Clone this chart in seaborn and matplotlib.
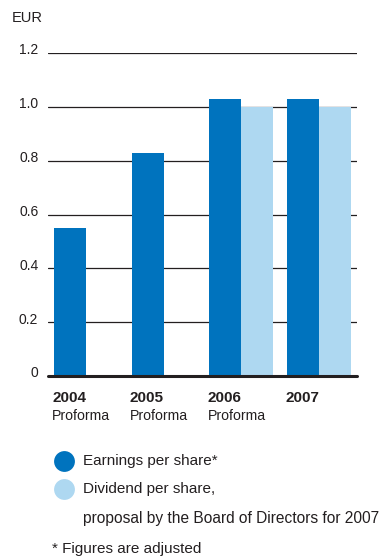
import matplotlib
matplotlib.use("Agg")
import matplotlib.pyplot as plt
from matplotlib.lines import Line2D
from matplotlib.transforms import ScaledTranslation, blended_transform_factory
import seaborn as sns
import pandas as pd

# Earnings and dividend per share, EUR
years = ["2004", "2005", "2006", "2007"]
year_notes = ["Proforma", "Proforma", "Proforma", ""]
eps = [0.55, 0.83, 1.03, 1.03]
dividend = [None, None, 1.00, 1.00]
series = ["Earnings per share*", "Dividend per share,"]
y_ticks = [0, 0.2, 0.4, 0.6, 0.8, 1.0, 1.2]
y_tick_labels = ["0", "0.2", "0.4", "0.6", "0.8", "1.0", "1.2"]

DARK = "#0073BE"
LIGHT = "#AED8F1"
TEXT = "#231F20"

rows = []
for y, e, d in zip(years, eps, dividend):
    rows.append((y, series[0], e))
    if d is not None:
        rows.append((y, series[1], d))
df = pd.DataFrame(rows, columns=["year", "series", "value"])

sns.set_theme(style="white")
plt.rcParams["font.family"] = ["Liberation Sans", "DejaVu Sans"]
plt.rcParams["text.color"] = TEXT

fig = plt.figure(figsize=(3.81, 5.60), dpi=100)
ax = fig.add_axes([48 / 381, 184 / 560, 309 / 381, 323 / 560])

sns.barplot(data=df, x="year", y="value", hue="series", order=years,
            hue_order=series, palette=[DARK, LIGHT], width=0.82,
            saturation=1, legend=False, ax=ax, zorder=2, linewidth=0)

ax.set_xlim(-0.49, 3.49)
ax.set_ylim(0, 1.2)
ax.set_xlabel("")
ax.set_ylabel("")
for s in ax.spines.values():
    s.set_visible(False)

ax.set_yticks(y_ticks)
ax.set_yticklabels(y_tick_labels, fontsize=10, color=TEXT)
ax.tick_params(axis="y", length=0, pad=7)
for lbl in ax.get_yticklabels():
    lbl.set_transform(lbl.get_transform() + ScaledTranslation(0, 3 / 72, fig.dpi_scale_trans))
ax.yaxis.grid(True, color=TEXT, lw=0.9)
ax.set_axisbelow(True)
ax.axhline(0, color=TEXT, lw=2.2, zorder=5, clip_on=False)

ax.set_xticks([])
trans = blended_transform_factory(ax.transData, ax.transAxes)
for i, (yr, note) in enumerate(zip(years, year_notes)):
    x0 = i - 0.435
    ax.text(x0, -0.068, yr, transform=trans, fontsize=11, fontweight="bold",
            ha="left", va="center", color=TEXT)
    if note:
        ax.text(x0, -0.125, note, transform=trans, fontsize=10.2,
                ha="left", va="center", color=TEXT)

fig.text(12 / 381, 1 - 18 / 560, "EUR", fontsize=10.5, ha="left", va="center", color=TEXT)

# Legend
for yy, col, label in [(461, DARK, series[0]), (489, LIGHT, series[1])]:
    fig.add_artist(Line2D([63.5 / 381], [1 - yy / 560], marker="o", markersize=15,
                          color=col, markeredgewidth=0, transform=fig.transFigure))
    fig.text(83 / 381, 1 - yy / 560, label, fontsize=11, ha="left", va="center", color=TEXT)
fig.text(83 / 381, 1 - 518 / 560, "proposal by the Board of Directors for 2007",
         fontsize=11.2, ha="left", va="center", color=TEXT)
fig.text(52 / 381, 1 - 549 / 560, "* Figures are adjusted",
         fontsize=11, ha="left", va="center", color=TEXT)

fig.savefig("out.png", dpi=100)
